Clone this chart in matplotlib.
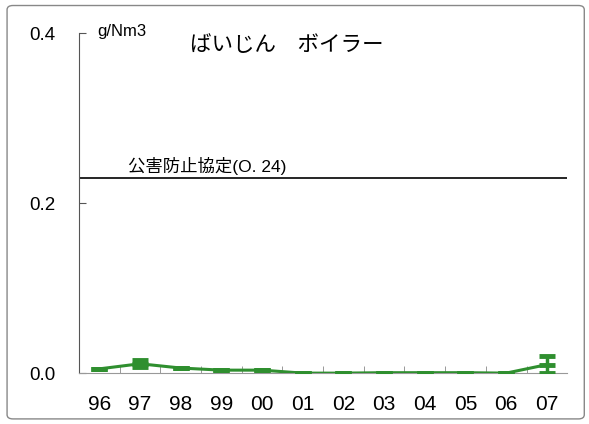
import matplotlib
matplotlib.use("Agg")
import matplotlib.pyplot as plt
from matplotlib.patches import FancyBboxPatch

plt.rcParams['font.family'] = ['Liberation Sans', 'Noto Sans CJK JP', 'DejaVu Sans']

years = ["96", "97", "98", "99", "00", "01", "02", "03", "04", "05", "06", "07"]
values = [0.005, 0.011, 0.006, 0.0035, 0.0035, 0.0, 0.0, 0.0005, 0.0005, 0.0005, 0.0, 0.010]
errors = [0.0, 0.004, 0.0, 0.0, 0.0, 0.0, 0.0, 0.0, 0.0, 0.0, 0.0, 0.010]
limit_value = 0.23
limit_label = "公害防止協定(O. 24)"
title = "ばいじん　ボイラー"
unit = "g/Nm3"
yticks = [0.0, 0.2, 0.4]

fig = plt.figure(figsize=(5.89, 4.24), dpi=100)
ax = fig.add_axes([0.134, 0.120, 0.829, 0.802])

green = "#2f8f2f"
x = list(range(len(years)))
ax.errorbar(x, values, yerr=errors, color=green, lw=2.2, marker="_", ms=11, mew=3.5,
            capsize=6, capthick=3, elinewidth=2.5, zorder=3)
ax.axhline(limit_value, color="black", lw=1.2, zorder=2)

ax.set_xlim(-0.5, len(years) - 0.5)
ax.set_ylim(0, 0.4)
ax.set_yticks(yticks)
ax.set_yticklabels([f"{v:.1f}" for v in yticks], fontsize=13.5)
ax.tick_params(axis='y', length=5, direction='in', pad=17, color='#555555')
ax.set_xticks(x)
ax.set_xticklabels(years, fontsize=15)
ax.set_xticks([i + 0.5 for i in x[:-1]], minor=True)
ax.tick_params(axis='x', which='major', length=0, pad=16)
ax.tick_params(axis='x', which='minor', length=5, direction='in', color='#888888')

for s in ['top', 'right']:
    ax.spines[s].set_visible(False)
ax.spines['left'].set_color('#555555')
ax.spines['bottom'].set_color('#999999')

fig.text(0.165, 0.925, unit, fontsize=12, ha='left', va='center')
fig.text(0.322, 0.893, title, fontsize=15.5, ha='left', va='center')
ax.text(0.10, limit_value + 0.003, limit_label, transform=ax.get_yaxis_transform(),
        fontsize=12.5, ha='left', va='bottom')

border = FancyBboxPatch((0.012, 0.012), 0.98, 0.975, boxstyle="round,pad=0,rounding_size=0.01",
                        transform=fig.transFigure, fill=False, ec='#888888', lw=1)
fig.patches.append(border)

fig.savefig("out.png", dpi=100)
